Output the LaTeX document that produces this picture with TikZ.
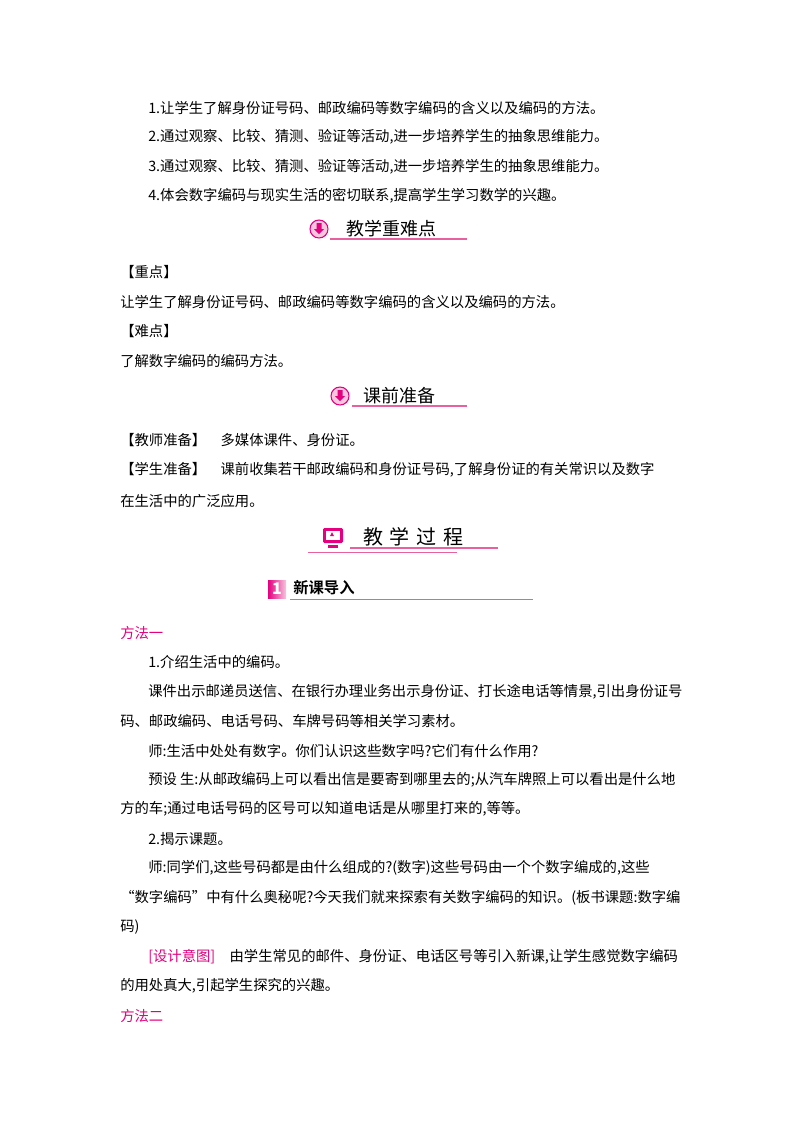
\documentclass[tikz,border=0pt]{standalone}
\usepackage{fontspec}
\setmainfont{Noto Sans CJK SC}
\newfontfamily\cjkb[BoldFont=*]{Noto Sans CJK SC Bold}
\definecolor{mag}{HTML}{E4007F}
\definecolor{lmag}{HTML}{F7C6DF}
\definecolor{uline}{HTML}{E8609E}
\begin{document}
\begin{tikzpicture}[x=0.75pt,y=-0.75pt,
  t/.style={anchor=west,inner sep=0pt,font=\fontsize{10.75pt}{12pt}\selectfont},
  pk/.style={t,text=mag},
  hd/.style={anchor=west,inner sep=0pt,font=\fontsize{13.5pt}{15pt}\selectfont},
  ul/.style={uline,line width=0.8pt}]
\useasboundingbox[fill=white] (0,0) rectangle (800,1132);
\node[t] (a1) at (148,108) {1.让学生了解身份证号码、邮政编码等数字编码的含义以及编码的方法。};
\node[t] (a2) at (148,137) {2.通过观察、比较、猜测、验证等活动,进一步培养学生的抽象思维能力。};
\node[t] (a3) at (148,167) {3.通过观察、比较、猜测、验证等活动,进一步培养学生的抽象思维能力。};
\node[t] (a4) at (148,196) {4.体会数字编码与现实生活的密切联系,提高学生学习数学的兴趣。};
% header 1
\draw[mag,fill=lmag,line width=0.8pt] (319,229) circle (9);
\fill[mag] (316.5,223) rectangle (321.5,229) -- (324,229) -- (319,234) -- (314,229) -- (316.5,229);
\node[hd] (h1) at (346,229) {教学重难点};
\draw[ul] (330,239) -- (467,239);
\node[t] (b1) at (120,272) {【重点】};
\node[t] (b2) at (120,302) {让学生了解身份证号码、邮政编码等数字编码的含义以及编码的方法。};
\node[t] (b3) at (120,331) {【难点】};
\node[t] (b4) at (120,361) {了解数字编码的编码方法。};
% header 2
\draw[mag,fill=lmag,line width=0.8pt] (340,396) circle (9);
\fill[mag] (337.5,390) rectangle (342.5,396) -- (345,396) -- (340,401) -- (335,396) -- (337.5,396);
\node[hd] (h2) at (363,396) {课前准备};
\draw[ul] (352,406) -- (467,406);
\node[t] (c1) at (120,440) {【教师准备】\quad 多媒体课件、身份证。};
\node[t] (c2) at (120,470) {【学生准备】\quad 课前收集若干邮政编码和身份证号码,了解身份证的有关常识以及数字};
\node[t] (c3) at (120,501) {在生活中的广泛应用。};
% header 3
\fill[mag,rounded corners=1pt] (323,528) rectangle (343,543);
\fill[white] (326,531) rectangle (340,540);
\fill[mag] (330,536) -- (334,536) -- (332,532) -- cycle;
\fill[mag] (328,545) rectangle (338,548);
\node[hd,font=\fontsize{15pt}{17pt}\selectfont] (h3) at (363,537) {教\,\,学\,\,过\,\,程};
\draw[ul] (350,548) -- (498,548);
\draw[ul,line width=0.6pt] (308,552) -- (457,552);
% header 4
\shade[left color=mag,right color=lmag] (268,580) rectangle (286,598);
\node[anchor=center,inner sep=0pt,text=white,font=\bfseries\itshape\fontsize{12pt}{12pt}\selectfont] (n1) at (277,589) {1};
\node[hd,font=\cjkb\fontsize{11.5pt}{13pt}\selectfont] (h4) at (293,588) {新课导入};
\draw[ul,line width=0.6pt] (290,599) -- (533,599);
% body
\node[pk] (d0) at (120,633) {方法一};
\node[t] (d1) at (148,662) {1.介绍生活中的编码。};
\node[t] (d2) at (148,692) {课件出示邮递员送信、在银行办理业务出示身份证、打长途电话等情景,引出身份证号};
\node[t] (d3) at (120,721) {码、邮政编码、电话号码、车牌号码等相关学习素材。};
\node[t] (d4) at (148,751) {师:生活中处处有数字。你们认识这些数字吗?它们有什么作用?};
\node[t] (d5) at (148,780) {预设\ 生:从邮政编码上可以看出信是要寄到哪里去的;从汽车牌照上可以看出是什么地};
\node[t] (d6) at (120,809) {方的车;通过电话号码的区号可以知道电话是从哪里打来的,等等。};
\node[t] (d7) at (148,839) {2.揭示课题。};
\node[t] (d8) at (148,868) {师:同学们,这些号码都是由什么组成的?(数字)这些号码由一个个数字编成的,这些};
\node[t] (d9) at (120,898) {“数字编码”中有什么奥秘呢?今天我们就来探索有关数字编码的知识。(板书课题:数字编};
\node[t] (d10) at (120,927) {码)};
\node[t] (d11) at (148,957) {\textcolor{mag}{[设计意图]}\quad 由学生常见的邮件、身份证、电话区号等引入新课,让学生感觉数字编码};
\node[t] (d12) at (120,986) {的用处真大,引起学生探究的兴趣。};
\node[pk] (d13) at (120,1016) {方法二};
\end{tikzpicture}
\end{document}
